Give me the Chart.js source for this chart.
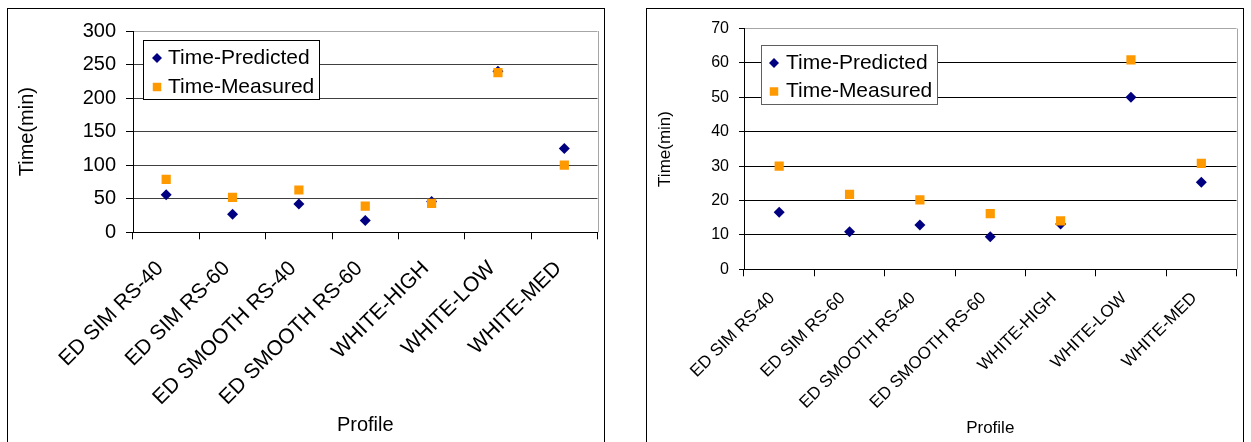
<!DOCTYPE html>
<html>
<head>
<meta charset="utf-8">
<title>Time per profile</title>
<script src="https://cdn.jsdelivr.net/npm/chart.js@4.4.0/dist/chart.umd.min.js"></script>
<style>
    html, body { margin: 0; padding: 0; background: #fff; overflow: hidden; }
    .panel { position: absolute; top: 8px; width: 596px; height: 460px; border: 1px solid #000; background: #fff; }
    #panel_left { left: 7px; }
    #panel_right { left: 646px; }
    .panel canvas { position: absolute; left: 0; top: 0; }
</style>
</head>
<body>
<div class="panel" id="panel_left"><canvas id="chart_left" width="596" height="433"></canvas></div>
<div class="panel" id="panel_right"><canvas id="chart_right" width="596" height="433"></canvas></div>
<script>
var profiles = ['ED SIM RS-40', 'ED SIM RS-60', 'ED SMOOTH RS-40', 'ED SMOOTH RS-60', 'WHITE-HIGH', 'WHITE-LOW', 'WHITE-MED'];

// left panel (minutes)
var leftPredicted = [56, 27, 42, 17.5, 46, 240, 125];
var leftMeasured = [79, 52, 63, 39, 43, 238, 100];
var leftTicks = [0, 50, 100, 150, 200, 250, 300];

// right panel (minutes)
var rightPredicted = [16.6, 10.9, 12.9, 9.5, 13.2, 50, 25.3];
var rightMeasured = [30, 21.8, 20.2, 16.2, 14.1, 60.9, 30.8];
var rightTicks = [0, 10, 20, 30, 40, 50, 60, 70];

var FONT = '"Liberation Sans", Arial, Helvetica, sans-serif';
Chart.defaults.font.family = FONT;
Chart.defaults.color = '#000';

var NAVY = '#000080',
    ORANGE = '#ff9900';

function drawMarker(ctx, shape, x, y, r, color) {
    ctx.fillStyle = color;
    ctx.beginPath();
    if (shape === 'rectRot') {
        ctx.moveTo(x - r, y);
        ctx.lineTo(x, y - r);
        ctx.lineTo(x + r, y);
        ctx.lineTo(x, y + r);
    } else {
        var h = r * Math.SQRT1_2;
        ctx.rect(x - h, y - h, 2 * h, 2 * h);
    }
    ctx.closePath();
    ctx.fill();
}

// grey right edge of the plot area + boxed legend in the top-left corner
var boxLegend = {
    id: 'boxLegend',
    afterDatasetsDraw: function (chart, args, opts) {
        var ctx = chart.ctx, area = chart.chartArea;
        ctx.save();
        ctx.lineWidth = 1;
        ctx.strokeStyle = '#a6a6a6';
        ctx.beginPath();
        ctx.moveTo(Math.round(area.right) + 0.5, area.top);
        ctx.lineTo(Math.round(area.right) + 0.5, area.bottom);
        ctx.stroke();

        var x = Math.round(area.left + opts.dx), y = Math.round(area.top + opts.dy);
        ctx.fillStyle = '#fff';
        ctx.fillRect(x, y, opts.w, opts.h);
        ctx.strokeStyle = opts.border;
        ctx.strokeRect(x + 0.5, y + 0.5, opts.w, opts.h);

        ctx.font = opts.fontSize + 'px ' + FONT;
        ctx.textBaseline = 'middle';
        chart.data.datasets.forEach(function (ds, i) {
            var cy = y + opts.row0 + i * opts.rowGap;
            drawMarker(ctx, ds.pointStyle, x + opts.markerX, cy, ds.pointRadius - 0.5, ds.pointBackgroundColor);
            ctx.fillStyle = '#000';
            ctx.fillText(ds.label, x + opts.textX, cy);
        });
        ctx.restore();
    }
};

function series(label, values, shape, radius, color, order) {
    return {
        label: label,
        data: values,
        showLine: false,
        pointStyle: shape,
        pointRadius: radius,
        pointHoverRadius: radius,
        pointBackgroundColor: color,
        pointBorderColor: color,
        pointBorderWidth: 0,
        order: order
    };
}

function buildChart(canvasId, s) {
    var top = s.ticks[s.ticks.length - 1];
    return new Chart(document.getElementById(canvasId), {
        type: 'line',
        data: {
            labels: profiles,
            datasets: [
                series('Time-Predicted', s.predicted, 'rectRot', 5.5, NAVY, 1),
                series('Time-Measured', s.measured, 'rect', 6.5, ORANGE, 0)
            ]
        },
        options: {
            responsive: false,
            animation: false,
            events: [],
            layout: {
                padding: {top: s.plotTop, right: 3, bottom: 0, left: 0}
            },
            plugins: {
                legend: {display: false},
                tooltip: {enabled: false},
                boxLegend: s.legend
            },
            scales: {
                x: {
                    offset: true,
                    grid: {
                        display: true,
                        offset: true,
                        drawOnChartArea: false,
                        drawTicks: true,
                        tickLength: 7,
                        tickColor: '#000'
                    },
                    border: {display: true, color: '#000'},
                    ticks: {
                        autoSkip: false,
                        minRotation: 45,
                        maxRotation: 45,
                        padding: s.xPad,
                        labelOffset: s.xShift,
                        font: {size: s.xFont}
                    },
                    title: {
                        display: true,
                        text: 'Profile',
                        font: {size: s.titleFont},
                        padding: {top: 0, bottom: s.xTitlePad}
                    },
                    afterFit: function (scale) {
                        scale.height = s.xHeight;
                    }
                },
                y: {
                    min: 0,
                    max: top,
                    grid: {
                        color: function (c) {
                            return c.tick && c.tick.value === top ? '#a6a6a6' : s.gridColor;
                        },
                        tickLength: s.tickLen,
                        tickColor: '#000'
                    },
                    border: {display: true, color: '#000'},
                    ticks: {
                        padding: 10,
                        font: {size: s.yFont}
                    },
                    afterBuildTicks: function (scale) {
                        scale.ticks = s.ticks.map(function (v) {
                            return {value: v};
                        });
                    },
                    title: {
                        display: true,
                        text: 'Time(min)',
                        font: {size: s.titleFont},
                        padding: {top: s.yTitlePad, bottom: 0}
                    },
                    afterFit: function (scale) {
                        scale.width = s.yWidth;
                    }
                }
            }
        },
        plugins: [boxLegend]
    });
}

buildChart('chart_left', {
    predicted: leftPredicted,
    measured: leftMeasured,
    ticks: leftTicks,
    plotTop: 16.3,
    yWidth: 125,
    xHeight: 209.7,
    tickLen: 7,
    yFont: 20,
    xFont: 21,
    xPad: 17,
    xShift: -6,
    titleFont: 20,
    yTitlePad: 7,
    xTitlePad: 5,
    gridColor: '#404040',
    legend: {dx: 10, dy: 9, w: 176, h: 59, markerX: 14, textX: 25, row0: 18, rowGap: 29, fontSize: 21, border: '#000'}
});

buildChart('chart_right', {
    predicted: rightPredicted,
    measured: rightMeasured,
    ticks: rightTicks,
    plotTop: 13.7,
    yWidth: 97,
    xHeight: 172.7,
    tickLen: 5,
    yFont: 16,
    xFont: 17,
    xPad: 12,
    xShift: -7,
    titleFont: 17,
    yTitlePad: 7.8,
    xTitlePad: 3.8,
    gridColor: '#000',
    legend: {dx: 17, dy: 16, w: 176, h: 59, markerX: 13, textX: 25, row0: 18, rowGap: 28.5, fontSize: 21, border: '#606060'}
});
</script>
</body>
</html>
